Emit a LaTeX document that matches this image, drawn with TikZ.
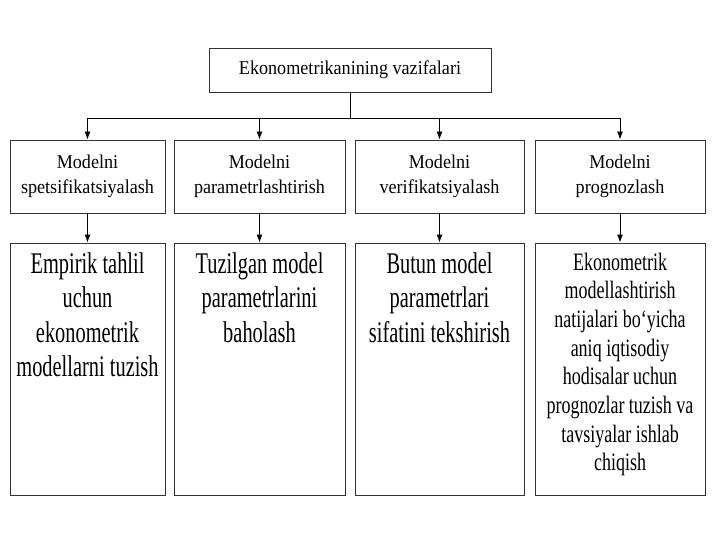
\documentclass[tikz,border=0pt]{standalone}
\usepackage{fontspec}
\setmainfont{Liberation Serif}
\newfontfamily\headfont[FakeStretch=0.93]{Liberation Serif}
\newfontfamily\widefont[FakeStretch=0.68]{Liberation Serif}
\newfontfamily\longfont[FakeStretch=0.72]{Liberation Serif}
\usetikzlibrary{arrows.meta,positioning}

\begin{document}
\begin{tikzpicture}[x=1pt,y=-1pt,>={Latex[length=8pt,width=6pt]},
  box/.style={draw=black!80,line width=0.9pt},
  link/.style={black,line width=0.9pt},
  stagebox/.style={box,minimum width=#1,minimum height=73pt,align=center,
    font=\headfont\fontsize{19.5}{25}\selectfont},
  detailbox/.style={box,minimum width=#1,minimum height=252pt},
  detailtext/.style={text width=#1,align=flush center,inner sep=0pt}]
\useasboundingbox[fill=white] (0,0) rectangle (720,540);
\node[box,minimum width=282pt,minimum height=44pt,
  font=\headfont\fontsize{19.5}{24}\selectfont] (goal) at (350,70) {Ekonometrikanining vazifalari};

\node[stagebox=155pt] (s1) at (87.5,176.5) {Modelni\\spetsifikatsiyalash};
\node[stagebox=171pt] (s2) at (259.5,176.5) {Modelni\\parametrlashtirish};
\node[stagebox=169pt] (s3) at (439.5,176.5) {Modelni\\verifikatsiyalash};
\node[stagebox=170pt] (s4) at (620,176.5) {Modelni\\prognozlash};

\node[detailbox=155pt] (d1) at (87.5,369) {};
\node[detailbox=171pt] (d2) at (259.5,369) {};
\node[detailbox=169pt] (d3) at (439.5,369) {};
\node[detailbox=170pt] (d4) at (620,369) {};

\node[detailtext=152pt,below=10pt of d1.north,font=\widefont\fontsize{30}{34.4}\selectfont] (t1)
  {Empirik tahlil\\uchun\\ekonometrik\\modellarni tuzish};
\node[detailtext=166pt,below=10pt of d2.north,font=\widefont\fontsize{30}{34.4}\selectfont] (t2)
  {Tuzilgan model\\parametrlarini\\baholash};
\node[detailtext=164pt,below=10pt of d3.north,font=\widefont\fontsize{30}{34.4}\selectfont] (t3)
  {Butun model\\parametrlari\\sifatini tekshirish};
\node[detailtext=164pt,below=10pt of d4.north,font=\longfont\fontsize{25}{28.7}\selectfont] (t4)
  {Ekonometrik\\modellashtirish\\natijalari bo‘yicha\\aniq iqtisodiy\\hodisalar uchun\\prognozlar tuzish va\\tavsiyalar ishlab\\chiqish};

\coordinate (hub) at (350,118);
\draw[link] (goal) -- (hub);
\foreach \n in {1,...,4} {
  \draw[link,->] (hub) -| (s\n.north);
  \draw[link,->] (s\n) -- (d\n);
}
\end{tikzpicture}
\end{document}
